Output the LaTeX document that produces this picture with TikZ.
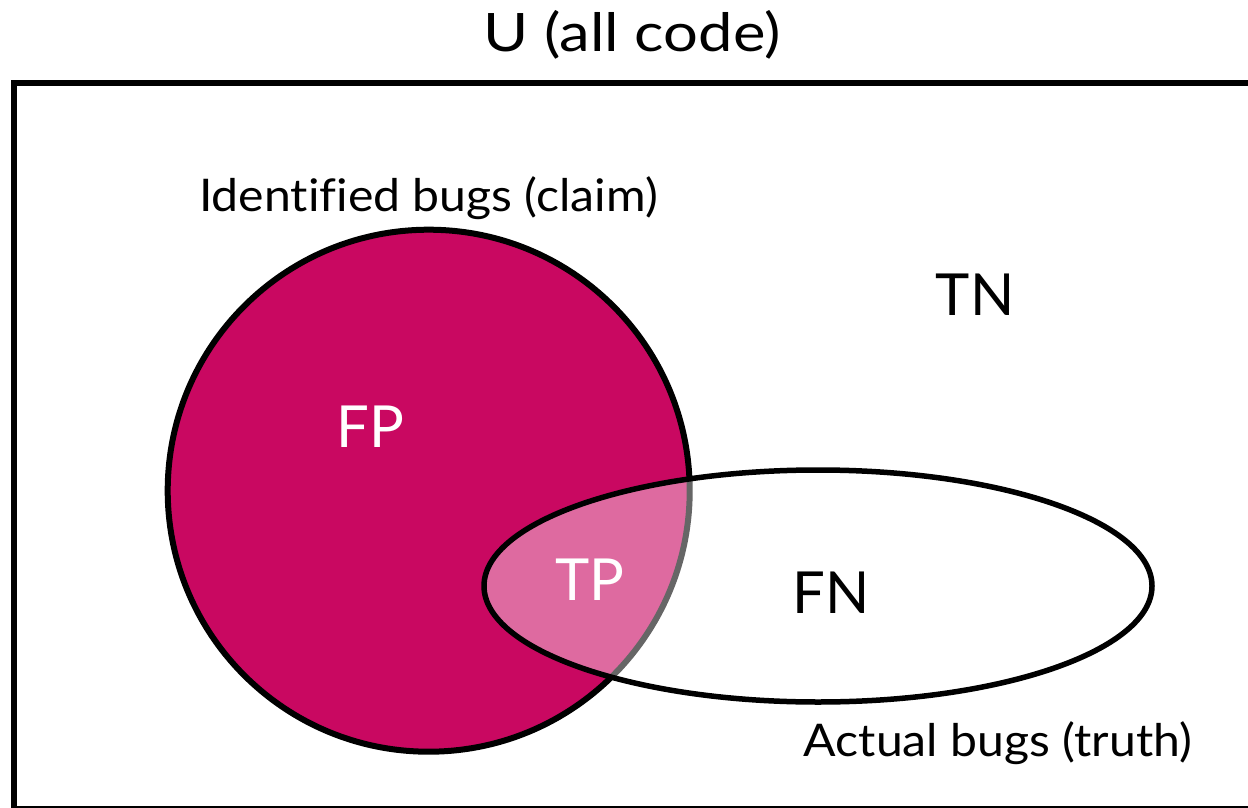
\documentclass[tikz,border=0pt]{standalone}
\usepackage{fontspec}
\setmainfont{Lato}[Ligatures=CommonOff]
\newfontfamily\captionfont{Lato}[Ligatures=CommonOff, FakeStretch=1.07]
\newfontfamily\titlefont{Lato}[Ligatures=CommonOff, FakeStretch=1.16]
\definecolor{claimfill}{RGB}{201,8,97}
\tikzset{
  frameline/.style={line width=6pt, draw=black},
  setline/.style={line width=6pt, draw=black},
  biglabel/.style={anchor=base, inner sep=0pt, font=\fontsize{58}{60}\selectfont},
  caption/.style={anchor=base, inner sep=0pt, font=\captionfont\fontsize{45}{48}\selectfont},
  titlelabel/.style={anchor=base, inner sep=0pt, font=\titlefont\fontsize{53}{56}\selectfont}
}
\begin{document}
\begin{tikzpicture}[x=1pt, y=-1pt]
  \clip (0,0) rectangle (1248,808);
  \fill[white] (0,0) rectangle (1248,808);

  % universe frame, running off the right and bottom edges
  \draw[frameline] (14,83) rectangle (1252,809);

  % identified bugs (claim)
  \coordinate (claimc) at (428.7,490.7);
  \fill[claimfill] (claimc) circle[radius=261pt];
  \draw[setline] (claimc) circle[radius=261pt];

  % actual bugs (truth): translucent white wash, then outline
  \coordinate (truthc) at (818,586);
  \fill[white, fill opacity=0.4] (truthc) ellipse[x radius=334pt, y radius=116pt];
  \draw[setline, line width=5.5pt] (truthc) ellipse[x radius=334pt, y radius=116pt];

  % labels
  \node[titlelabel] (title) at (632,52) {U (all code)};
  \node[caption] (claimlbl) at (428.5,211.5) {Identified bugs (claim)};
  \node[caption] (truthlbl) at (998,756) {Actual bugs (truth)};
  \node[biglabel] (tn) at (975,315) {TN};
  \node[biglabel, text=white] (fp) at (370,447) {FP};
  \node[biglabel, text=white] (tp) at (590,600) {TP};
  \node[biglabel] (fn) at (831,613) {FN};
\end{tikzpicture}
\end{document}
